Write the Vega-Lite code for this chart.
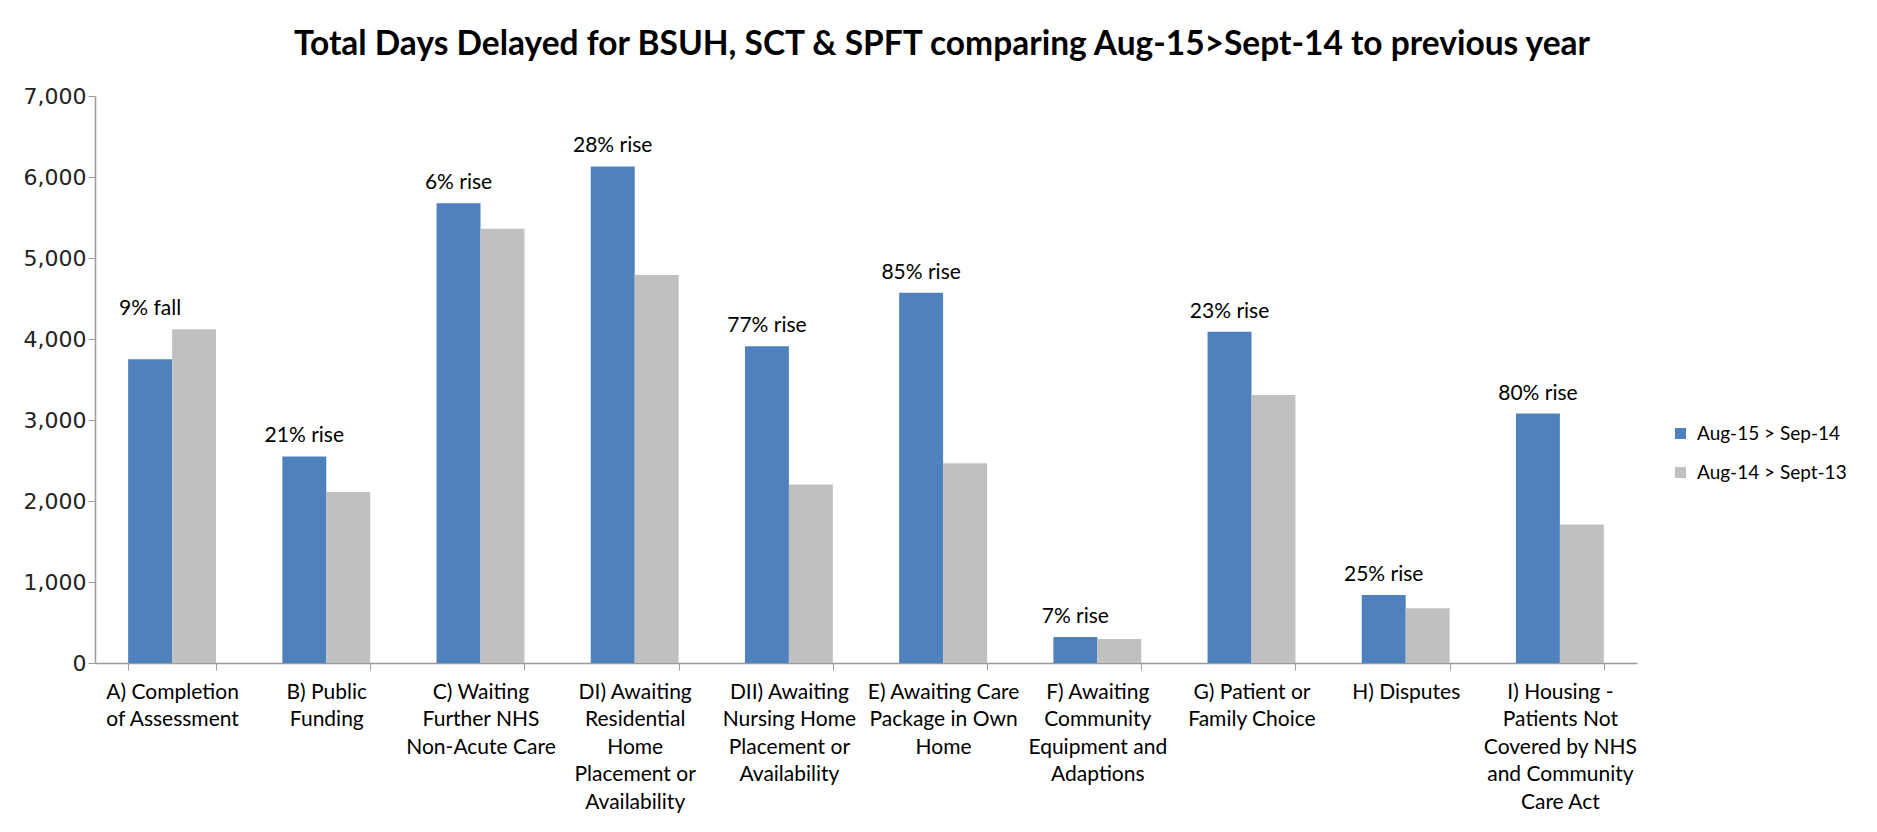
{
  "$schema": "https://vega.github.io/schema/vega-lite/v6.json",
  "width": 1542,
  "height": 567,
  "autosize": {"type": "none"},
  "padding": {"left": 95, "top": 96, "right": 240, "bottom": 169},
  "background": "#ffffff",
  "title": {
    "text": "Total Days Delayed for BSUH, SCT & SPFT comparing Aug-15>Sept-14 to previous year",
    "font": "Lato",
    "fontSize": 33.5,
    "fontWeight": "bold",
    "color": "#000000",
    "anchor": "middle",
    "dx": 76,
    "baseline": "alphabetic",
    "offset": -3
  },
  "data": {
    "values": [
      {"category": "A) Completion|of Assessment", "series": "Aug-15 > Sep-14", "days": 3750, "change": "9% fall"},
      {"category": "A) Completion|of Assessment", "series": "Aug-14 > Sept-13", "days": 4120, "change": "9% fall"},
      {"category": "B) Public|Funding", "series": "Aug-15 > Sep-14", "days": 2550, "change": "21% rise"},
      {"category": "B) Public|Funding", "series": "Aug-14 > Sept-13", "days": 2110, "change": "21% rise"},
      {"category": "C) Waiting|Further NHS|Non-Acute Care", "series": "Aug-15 > Sep-14", "days": 5675, "change": "6% rise"},
      {"category": "C) Waiting|Further NHS|Non-Acute Care", "series": "Aug-14 > Sept-13", "days": 5360, "change": "6% rise"},
      {"category": "DI) Awaiting|Residential|Home|Placement or|Availability", "series": "Aug-15 > Sep-14", "days": 6130, "change": "28% rise"},
      {"category": "DI) Awaiting|Residential|Home|Placement or|Availability", "series": "Aug-14 > Sept-13", "days": 4790, "change": "28% rise"},
      {"category": "DII) Awaiting|Nursing Home|Placement or|Availability", "series": "Aug-15 > Sep-14", "days": 3910, "change": "77% rise"},
      {"category": "DII) Awaiting|Nursing Home|Placement or|Availability", "series": "Aug-14 > Sept-13", "days": 2205, "change": "77% rise"},
      {"category": "E) Awaiting Care|Package in Own|Home", "series": "Aug-15 > Sep-14", "days": 4570, "change": "85% rise"},
      {"category": "E) Awaiting Care|Package in Own|Home", "series": "Aug-14 > Sept-13", "days": 2465, "change": "85% rise"},
      {"category": "F) Awaiting|Community|Equipment and|Adaptions", "series": "Aug-15 > Sep-14", "days": 320, "change": "7% rise"},
      {"category": "F) Awaiting|Community|Equipment and|Adaptions", "series": "Aug-14 > Sept-13", "days": 295, "change": "7% rise"},
      {"category": "G) Patient or|Family Choice", "series": "Aug-15 > Sep-14", "days": 4090, "change": "23% rise"},
      {"category": "G) Patient or|Family Choice", "series": "Aug-14 > Sept-13", "days": 3310, "change": "23% rise"},
      {"category": "H) Disputes", "series": "Aug-15 > Sep-14", "days": 840, "change": "25% rise"},
      {"category": "H) Disputes", "series": "Aug-14 > Sept-13", "days": 675, "change": "25% rise"},
      {"category": "I) Housing -|Patients Not|Covered by NHS|and Community|Care Act", "series": "Aug-15 > Sep-14", "days": 3080, "change": "80% rise"},
      {"category": "I) Housing -|Patients Not|Covered by NHS|and Community|Care Act", "series": "Aug-14 > Sept-13", "days": 1710, "change": "80% rise"}
    ]
  },
  "encoding": {
    "x": {
      "field": "category",
      "type": "nominal",
      "sort": null,
      "scale": {"paddingInner": 0.43, "paddingOuter": 0.215},
      "axis": {
        "title": null,
        "labelAngle": 0,
        "labelExpr": "datum.value ? split(datum.value, '|') : ''",
        "labelFont": "Lato",
        "labelFontSize": 21,
        "labelColor": "#000000",
        "labelLineHeight": 27.6,
        "labelBaseline": "top",
        "labelPadding": 11,
        "labelLimit": 0,
        "tickBand": "extent",
        "tickSize": 7,
        "tickColor": "#9a9a9a",
        "domainColor": "#9a9a9a",
        "domainWidth": 1.5,
        "grid": false
      }
    },
    "xOffset": {
      "field": "series",
      "type": "nominal",
      "sort": ["Aug-15 > Sep-14", "Aug-14 > Sept-13"],
      "scale": {"paddingInner": 0, "paddingOuter": 0}
    }
  },
  "layer": [
    {
      "mark": {"type": "bar", "stroke": null},
      "encoding": {
        "y": {
          "field": "days",
          "type": "quantitative",
          "scale": {"domain": [0, 7000], "nice": false},
          "axis": {
            "title": null,
            "values": [0, 1000, 2000, 3000, 4000, 5000, 6000, 7000],
            "format": ",d",
            "labelFont": "DejaVu Sans",
            "labelFontSize": 22,
            "labelColor": "#222222",
            "labelPadding": 2,
            "tickSize": 7,
            "tickColor": "#9a9a9a",
            "domainColor": "#9a9a9a",
            "domainWidth": 1.5,
            "grid": false
          }
        },
        "color": {
          "field": "series",
          "type": "nominal",
          "sort": ["Aug-15 > Sep-14", "Aug-14 > Sept-13"],
          "scale": {"domain": ["Aug-15 > Sep-14", "Aug-14 > Sept-13"], "range": ["#4F81BD", "#C0C0C0"]},
          "legend": {
            "title": null,
            "orient": "none",
            "legendX": 1576,
            "legendY": 328,
            "symbolType": "square",
            "symbolSize": 121,
            "symbolStrokeWidth": 0,
            "labelFont": "Lato",
            "labelFontSize": 19,
            "labelColor": "#000000",
            "labelOffset": 7,
            "rowPadding": 19
          }
        }
      }
    },
    {
      "transform": [
        {"joinaggregate": [{"op": "max", "field": "days", "as": "top"}], "groupby": ["category"]},
        {"filter": "datum.series === 'Aug-15 > Sep-14'"}
      ],
      "mark": {"type": "text", "baseline": "alphabetic", "dy": -14, "font": "Lato", "fontSize": 21, "color": "#000000"},
      "encoding": {
        "y": {"field": "top", "type": "quantitative"},
        "text": {"field": "change"}
      }
    }
  ],
  "config": {"view": {"stroke": null}}
}
